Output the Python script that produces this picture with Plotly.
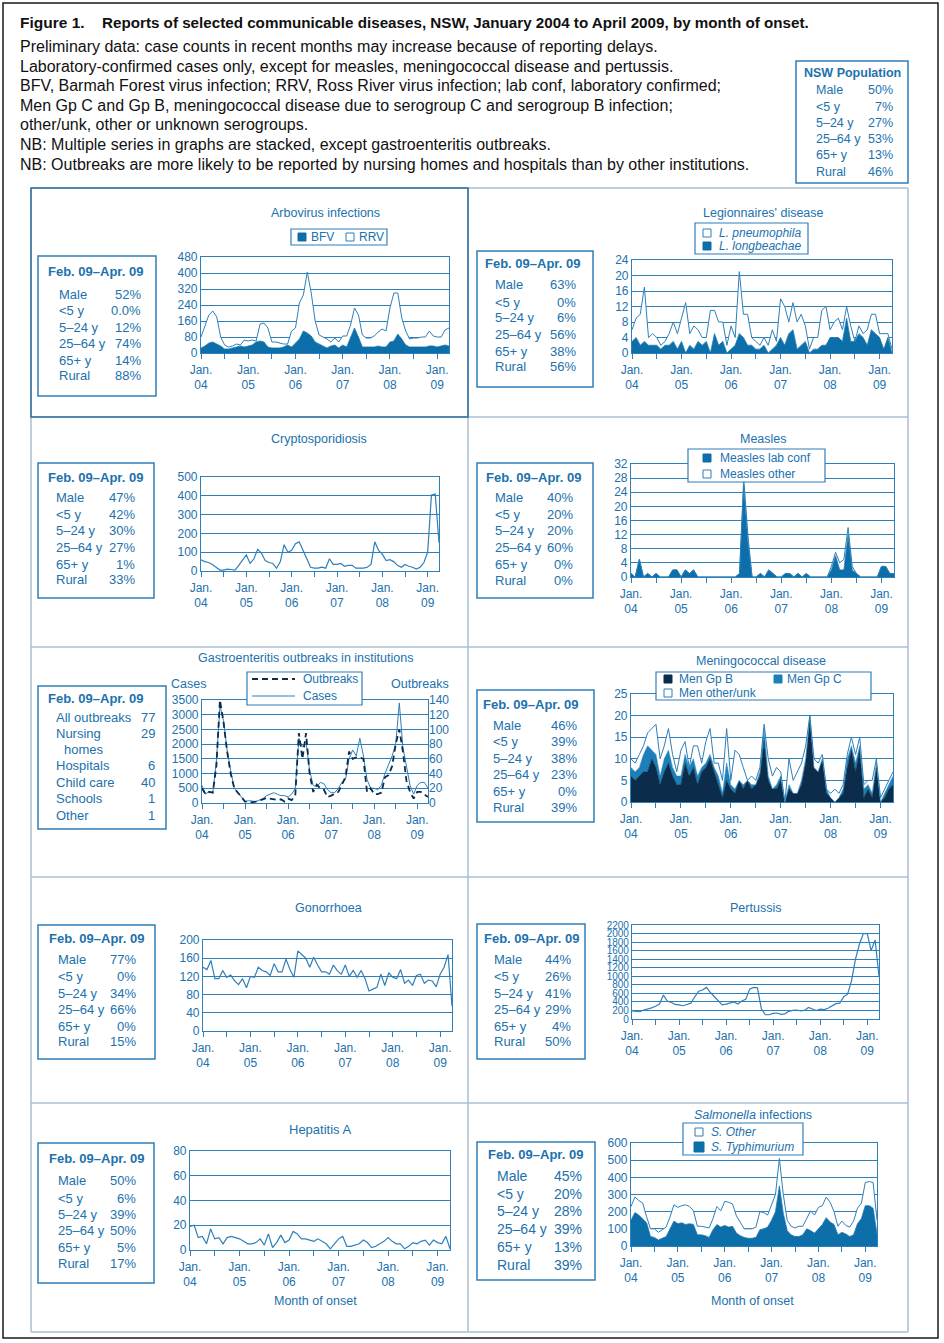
import plotly.graph_objects as go

W, H = 944, 1343
def PX(x): return x / W
def PY(y): return 1 - y / H

FONT = "Liberation Sans, Arial, sans-serif"
TXT = "#2171ad"
LINE = "#2f7fb9"
FILL = "#0d6fa9"
FILL_C = "#1b80ba"
DARK = "#0b2c4a"
GRIDC = "#2f7fb9"
PANEL = "#aabfd2"

# ---------------- data (monthly, Jan 2004 .. Apr 2009) ----------------
months = list(range(64))

bfv = [25,35,50,55,45,35,20,20,25,30, 35,30,35,40,55,60,55,30,25,25,
       25,30,40,30,50,70,110,100,85,55, 45,35,25,35,40,25,40,30,80,125,
       80,30,30,30,30,35,30,30,55,60, 95,70,40,30,30,30,30,30,35,35, 30,35,40,35]
rrv = [55,95,140,155,135,45,20,10,10,15, 5,35,25,25,5,85,95,95,30,30,
       25,15,5,80,75,180,180,305,215,105, 45,45,45,20,35,30,45,55,60,100,
       110,60,45,45,55,70,90,80,170,240, 205,105,70,40,45,45,50,50,75,50, 50,45,75,90]

l_longbeachae = [3,4,2,3,2,2,2,1,2,2, 3,1,3,0,2,1,3,2,3,0, 5,2,3,0,1,2,5,4,2,2,
                 1,1,2,0,1,2,4,2,5,6, 1,2,3,0,1,1,2,2,4,4, 4,3,9,3,3,5,4,2,6,5, 4,1,4,0]
l_pneumophila = [3,5,8,14,2,3,2,1,1,3, 5,4,6,13,3,6,3,2,1,11, 6,6,5,2,6,2,16,6,8,2,
                 2,1,2,2,5,1,10,10,3,7, 7,8,4,1,3,3,9,10,2,4, 5,3,3,4,0,2,1,4,4,5, 1,4,1,1]

crypto = [60,50,45,35,20,5,5,10,8,5, 30,55,85,40,65,115,95,55,45,40,
          15,50,140,100,110,145,155,110,65,20, 15,15,20,15,65,35,35,40,25,30,
          30,15,15,15,20,35,155,110,90,55, 60,50,30,20,35,25,20,10,20,45, 100,405,410,150]

measles_lab = [1,0,5,0,1,0,1,0,0,0, 2,2,0,2,1,2,0,0,0,0, 0,0,0,0,0,0,1,26,10,0,
               0,1,0,2,1,0,0,1,1,0, 1,0,1,0,0,0,0,0,2,6, 2,2,12,2,1,0,0,0,0,0, 3,3,1,1]
measles_other = [0,0,0,0,0,0,0,0,0,0, 0,0,0,0,0,0,0,0,0,0, 0,0,0,0,0,0,0,2,2,0,
                 0,0,0,0,0,0,0,0,0,0, 0,0,0,0,0,0,0,0,1,1, 2,3,2,1,0,0,0,0,0,0, 0,0,0,0]

gastro_cases = [600,300,400,350,1400,3300,2800,1800,1100,500, 350,200,50,80,60,50,100,150,250,300,
                350,300,250,250,200,300,500,2200,1900,2100, 1100,600,550,700,650,450,350,350,500,700,
                800,1500,1800,1600,2200,1600,800,500,500,450, 600,1000,1300,1600,2000,3400,1900,1300,600,300,
                600,700,700,500]
gastro_outbreaks = [20,12,15,14,50,140,110,70,40,20, 14,8,2,2,1,2,3,5,7,6,
                    5,4,5,2,6,4,10,95,60,95, 40,15,25,20,18,8,10,12,15,25,
                    35,70,60,62,62,60,15,20,12,12, 14,35,38,50,80,100,70,30,15,6, 15,15,12,8]

men_b = [6,5,6,7,7,10,8,4,7,9, 6,4,4,9,6,8,4,7,8,10, 7,4,1,5,3,2,5,3,5,3,
         4,6,14,5,3,3,5,0,3,2, 2,4,9,19,8,7,10,2,1,0, 1,2,8,12,7,12,1,3,1,8, 0,1,3,4]
men_c = [2,2,2,4,6,2,3,2,3,3, 2,2,2,2,2,2,2,1,1,1, 1,2,1,4,1,1,0,1,0,1,
         0,1,3,1,0,1,1,0,1,0, 0,1,1,1,0,0,0,1,0,0, 0,1,2,1,2,1,2,1,1,1, 0,1,1,2]
men_other = [2,2,3,2,3,5,7,4,3,5, 3,1,6,3,0,3,7,1,5,6, 1,3,3,8,1,9,6,4,0,2,
             1,1,1,4,3,4,1,0,6,3, 5,4,3,0,2,2,1,0,1,3, 1,1,1,2,2,2,1,1,3,1, 1,1,1,1]

gonorrhoea = [140,135,155,115,115,133,118,123,110,102, 115,95,120,118,140,133,130,122,148,130,
              130,158,135,118,176,168,160,140,162,145, 130,130,125,145,132,125,145,120,133,118,
              133,115,88,92,96,125,100,128,118,115, 135,105,112,100,122,125,105,112,110,97, 125,140,168,55]

pertussis = [190,180,170,210,230,260,300,350,560,420, 390,340,330,310,340,370,520,650,680,740,
             620,530,440,330,350,370,400,350,420,460, 700,740,730,240,100,100,130,140,110,120,
             180,200,210,190,200,270,240,200,230,220, 250,300,360,370,520,580,900,1400,1750,2000,
             2000,1600,1850,1000]

hep_a = [19,20,10,11,5,17,9,10,5,10, 11,10,9,7,5,5,6,9,4,13, 2,6,12,6,8,15,13,9,9,8,
         7,9,7,5,1,5,9,11,3,3, 4,5,8,6,2,3,5,7,10,7, 5,5,1,3,6,5,7,8,4,8, 6,5,11,1]

s_typhimurium = [150,195,180,155,135,55,50,35,45,55, 100,145,130,135,125,130,125,65,65,60,
                 50,95,125,110,120,110,115,75,60,50, 45,45,50,95,100,110,150,200,350,190,
                 90,65,55,55,65,100,90,75,100,125, 165,140,125,65,80,70,55,65,130,160, 235,235,220,70]
s_other = [80,90,85,95,35,45,50,45,50,55, 70,95,95,100,115,100,80,50,50,50,
           55,65,105,95,140,145,130,100,75,50, 55,55,60,105,95,70,90,100,160,110,
           60,50,50,60,50,60,115,105,125,110, 120,115,75,50,65,50,55,80,90,90, 135,140,150,80]

tick_vals = list(range(0, 61, 6))
tick_text = [("Jan.<br>%02d" % (4 + v // 12)) if v % 12 == 0 else "" for v in tick_vals]

stat_labels = ["Male", "<5 y", "5–24 y", "25–64 y", "65+ y", "Rural"]
nsw_values = ["50%", "7%", "27%", "53%", "13%", "46%"]
arbo_stats = ["52%", "0.0%", "12%", "74%", "14%", "88%"]
legion_stats = ["63%", "0%", "6%", "56%", "38%", "56%"]
crypto_stats = ["47%", "42%", "30%", "27%", "1%", "33%"]
measles_stats = ["40%", "20%", "20%", "60%", "0%", "0%"]
gastro_labels = ["All outbreaks", "Nursing", "homes", "Hospitals", "Child care", "Schools", "Other"]
gastro_stats = ["77", "29", "", "6", "40", "1", "1"]
men_stats = ["46%", "39%", "38%", "23%", "0%", "39%"]
gono_stats = ["77%", "0%", "34%", "66%", "0%", "15%"]
pert_stats = ["44%", "26%", "41%", "29%", "4%", "50%"]
hepa_stats = ["50%", "6%", "39%", "50%", "5%", "17%"]
salm_stats = ["45%", "20%", "28%", "39%", "13%", "39%"]

# ---------------- layout geometry (pixels) ----------------
panels = {
    1: (201, 449, 257, 353, [0, 480], 80, 12),
    2: (632, 892, 260, 353, [0, 24], 4, 12),
    3: (201, 439, 477, 571, [0, 500], 100, 12),
    4: (631, 894, 464, 577, [0, 32], 4, 12),
    5: (202, 428, 700, 803, [0, 3500], 500, 12),
    6: (631, 893, 694, 802, [0, 25], 5, 12),
    7: (203, 452, 940, 1031, [0, 200], 40, 12),
    8: (632, 879, 925, 1019, [0, 2200], 200, 10),
    9: (190, 450, 1151, 1250, [0, 80], 20, 12),
    10: (631, 877, 1143, 1246, [0, 600], 100, 12),
}

fig = go.Figure()

def ax(i):
    return ("x" if i == 1 else "x%d" % i), ("y" if i == 1 else "y%d" % i)

def line_trace(i, y, color=LINE, width=1.2, yaxis=None, dash=None):
    xa, ya = ax(i)
    fig.add_trace(go.Scatter(x=months, y=y, mode="lines", xaxis=xa, yaxis=yaxis or ya,
                             line=dict(color=color, width=width, dash=dash),
                             showlegend=False, hoverinfo="skip"))

def stack_trace(i, y, group, fillcolor, linecolor=LINE, width=1.0):
    xa, ya = ax(i)
    fig.add_trace(go.Scatter(x=months, y=y, mode="lines", xaxis=xa, yaxis=ya,
                             stackgroup=group, fillcolor=fillcolor,
                             line=dict(color=linecolor, width=width),
                             showlegend=False, hoverinfo="skip"))

stack_trace(1, bfv, "a1", FILL, FILL, 0.8)
stack_trace(1, rrv, "a1", "white", LINE, 1.0)
stack_trace(2, l_longbeachae, "a2", FILL, FILL, 0.8)
stack_trace(2, l_pneumophila, "a2", "white", LINE, 1.0)
line_trace(3, crypto)
stack_trace(4, measles_lab, "a4", FILL, FILL, 0.8)
stack_trace(4, measles_other, "a4", "white", LINE, 1.0)
line_trace(5, gastro_cases, LINE, 1.0)
line_trace(5, gastro_outbreaks, DARK, 1.8, yaxis="y11", dash="6px,4px")
stack_trace(6, men_b, "a6", DARK, DARK, 0.6)
stack_trace(6, men_c, "a6", FILL_C, FILL_C, 0.6)
stack_trace(6, men_other, "a6", "white", LINE, 1.0)
line_trace(7, gonorrhoea)
line_trace(8, pertussis)
line_trace(9, hep_a)
stack_trace(10, s_typhimurium, "a10", FILL, FILL, 0.8)
stack_trace(10, s_other, "a10", "white", LINE, 1.0)

layout = dict(width=W, height=H, autosize=False,
              margin=dict(l=0, r=0, t=0, b=0, pad=0, autoexpand=False),
              paper_bgcolor="white", plot_bgcolor="white",
              font=dict(family=FONT, color=TXT), showlegend=False)

for i, (l, r, t, b, yr, dt, fs) in panels.items():
    xk = "xaxis" if i == 1 else "xaxis%d" % i
    yk = "yaxis" if i == 1 else "yaxis%d" % i
    xa, ya = ax(i)
    layout[xk] = dict(domain=[PX(l), PX(r)], range=[0, 63], anchor=ya, automargin=False,
                      tickvals=tick_vals, ticktext=tick_text, ticks="outside",
                      ticklen=5, tickcolor=LINE, tickwidth=1,
                      showline=True, linecolor=LINE, linewidth=1.2, mirror=True,
                      showgrid=False, zeroline=False,
                      tickfont=dict(size=12, color=TXT, family=FONT), fixedrange=True)
    layout[yk] = dict(domain=[PY(b), PY(t)], range=yr, dtick=dt, anchor=xa, automargin=False,
                      showgrid=True, gridcolor=GRIDC, gridwidth=1,
                      showline=True, linecolor=LINE, linewidth=1.2, mirror=True,
                      zeroline=False, ticks="", ticklen=0,
                      tickfont=dict(size=fs, color=TXT, family=FONT), fixedrange=True)

l5, r5, t5, b5 = panels[5][:4]
layout["yaxis11"] = dict(domain=[PY(b5), PY(t5)], range=[0, 140], dtick=20, anchor="x5",
                         overlaying="y5", side="right", showgrid=False, showline=False,
                         zeroline=False, ticks="", automargin=False,
                         tickfont=dict(size=12, color=TXT, family=FONT), fixedrange=True)

shapes = []
annotations = []

def rect(x0, y0, x1, y1, color, width=1.2, fill=None, layer="above", dash=None):
    shapes.append(dict(type="rect", xref="paper", yref="paper",
                       x0=PX(x0), x1=PX(x1), y0=PY(y1), y1=PY(y0),
                       line=dict(color=color, width=width, dash=dash),
                       fillcolor=fill if fill else "rgba(0,0,0,0)", layer=layer))

def seg(x0, y0, x1, y1, color, width=1.0, dash=None, layer="above"):
    shapes.append(dict(type="line", xref="paper", yref="paper",
                       x0=PX(x0), x1=PX(x1), y0=PY(y0), y1=PY(y1),
                       line=dict(color=color, width=width, dash=dash), layer=layer))

def txt(x, y, s, size=12, color=TXT, anchor="left", bold=False):
    if bold:
        s = "<b>%s</b>" % s
    annotations.append(dict(x=PX(x), y=PY(y), xref="paper", yref="paper", text=s,
                            showarrow=False, xanchor=anchor, yanchor="middle",
                            font=dict(size=size, color=color, family=FONT)))

# outer frame and panel grid
rect(3, 3, 938, 1338, "#1a1a1a", 1.5, layer="below")
for yy in [188, 417, 647, 877, 1103, 1332]:
    seg(31, yy, 908, yy, PANEL, 1.5, layer="below")
for xx in [31, 468, 908]:
    seg(xx, 188, xx, 1332, PANEL, 1.5, layer="below")
rect(31, 188, 468, 417, "#2f6fa3", 1.5, layer="below")

# header
txt(18, 22, "Figure 1.", 15.5, "#111111", bold=True)
txt(100, 22, "Reports of selected communicable diseases, NSW, January 2004 to April 2009, by month of onset.",
    15.2, "#111111", bold=True)
header_lines = [
    "Preliminary data: case counts in recent months may increase because of reporting delays.",
    "Laboratory-confirmed cases only, except for measles, meningococcal disease and pertussis.",
    "BFV, Barmah Forest virus infection; RRV, Ross River virus infection; lab conf, laboratory confirmed;",
    "Men Gp C and Gp B, meningococcal disease due to serogroup C and serogroup B infection;",
    "other/unk, other or unknown serogroups.",
    "NB: Multiple series in graphs are stacked, except gastroenteritis outbreaks.",
    "NB: Outbreaks are more likely to be reported by nursing homes and hospitals than by other institutions.",
]
for k, s in enumerate(header_lines):
    txt(18, 46.5 + 19.6 * k, s, 16, "#111111")

# stats boxes
def stats(box, title_pos, rows_y, lx, vx, labels, values, size=13, title="Feb. 09–Apr. 09",
          tsize=13, indent=None):
    rect(*box, LINE, 1.5, fill="white")
    txt(title_pos[0], title_pos[1], title, tsize, TXT, anchor="center", bold=True)
    for k, (lab, val) in enumerate(zip(labels, values)):
        x = lx
        if indent and lab in indent:
            x = indent[lab]
        txt(x, rows_y[k], lab, size)
        if val:
            txt(vx, rows_y[k], val, size, anchor="right")

stats((796, 61, 908, 183), (852, 73), [90, 107, 123, 139, 155, 172], 814, 895,
      stat_labels, nsw_values, 12.5, "NSW Population", 12.5)
stats((38, 256, 156, 396), (95, 272), [294, 311, 327, 344, 361, 376], 57, 143, stat_labels, arbo_stats)
stats((477, 251, 593, 387), (532, 263), [285, 302, 317, 334, 351, 366], 493, 578, stat_labels, legion_stats)
stats((38, 463, 154, 598), (95, 477), [497, 514, 531, 547, 564, 579], 54, 137, stat_labels, crypto_stats)
stats((477, 463, 593, 598), (533, 477), [497, 514, 531, 547, 564, 580], 493, 575, stat_labels, measles_stats)
stats((38, 686, 166, 829), (95, 698), [717, 734, 749, 765, 782, 799, 815], 54, 157,
      gastro_labels, gastro_stats, indent={"homes": 62})
stats((477, 690, 594, 822), (530, 704), [725, 741, 758, 774, 791, 807], 491, 579, stat_labels, men_stats)
stats((38, 925, 155, 1059), (96, 938), [959, 976, 993, 1009, 1026, 1041], 56, 138, stat_labels, gono_stats)
stats((477, 924, 585, 1059), (531, 938), [959, 976, 993, 1009, 1026, 1041], 492, 573, stat_labels, pert_stats)
stats((38, 1143, 154, 1283), (96, 1158), [1180, 1198, 1214, 1230, 1247, 1263], 56, 138, stat_labels, hepa_stats)
stats((477, 1142, 595, 1280), (535, 1154), [1176, 1194, 1211, 1229, 1247, 1265], 495, 584,
      stat_labels, salm_stats, 14)

# panel titles
txt(325, 213, "Arbovirus infections", 12.5, anchor="center")
txt(763, 213, "Legionnaires' disease", 12.5, anchor="center")
txt(319, 439, "Cryptosporidiosis", 12.5, anchor="center")
txt(763, 439, "Measles", 12.5, anchor="center")
txt(305, 658, "Gastroenteritis outbreaks in institutions", 12.5, anchor="center")
txt(761, 661, "Meningococcal disease", 12.5, anchor="center")
txt(328, 908, "Gonorrhoea", 12.5, anchor="center")
txt(755, 908, "Pertussis", 12.5, anchor="center")
txt(320, 1129, "Hepatitis A", 13, anchor="center")
txt(753, 1115, "<i>Salmonella</i> infections", 12.5, anchor="center")
txt(188, 684, "Cases", 12.5, anchor="center")
txt(420, 684, "Outbreaks", 12.5, anchor="center")
txt(315, 1301, "Month of onset", 12.5, anchor="center")
txt(752, 1301, "Month of onset", 12.5, anchor="center")

# legends
def sq(cx, cy, fill, s=8, color=LINE):
    rect(cx - s / 2, cy - s / 2, cx + s / 2, cy + s / 2, color if fill == "white" else fill, 1,
         fill=fill)

rect(291, 229, 387, 245, LINE, 1.2, fill="white")
sq(302, 237, FILL); txt(309, 237, "BFV", 12)
sq(350, 237, "white"); txt(357, 237, "RRV", 12)

rect(695, 223, 808, 254, LINE, 1.2, fill="white")
sq(707, 233, "white"); txt(717, 233, "<i>L. pneumophila</i>", 12)
sq(707, 246, FILL); txt(717, 246, "<i>L. longbeachae</i>", 12)

rect(688, 449, 825, 482, LINE, 1.2, fill="white")
sq(707, 458, FILL); txt(718, 458, "Measles lab conf", 12)
sq(707, 474, "white"); txt(718, 474, "Measles other", 12)

rect(247, 672, 362, 705, LINE, 1.2, fill="white")
seg(252, 679, 295, 679, DARK, 2, dash="6px,4px"); txt(301, 679, "Outbreaks", 12)
seg(252, 696, 295, 696, LINE, 1); txt(301, 696, "Cases", 12)

rect(656, 672, 871, 700, LINE, 1.2, fill="white")
sq(668, 679, DARK); txt(677, 679, "Men Gp B", 12)
sq(778, 679, FILL_C); txt(785, 679, "Men Gp C", 12)
sq(668, 693, "white"); txt(677, 693, "Men other/unk", 12)

rect(683, 1123, 803, 1155, LINE, 1.2, fill="white")
sq(699, 1132, "white"); txt(709, 1132, "<i>S. Other</i>", 12)
sq(699, 1147, FILL, 10); txt(709, 1147, "<i>S. Typhimurium</i>", 12)

layout["shapes"] = shapes
layout["annotations"] = annotations
fig.update_layout(**layout)
fig.write_html("out.html", config={"displayModeBar": False},
               post_script="document.body.style.margin='0';document.body.style.overflow='hidden';")
